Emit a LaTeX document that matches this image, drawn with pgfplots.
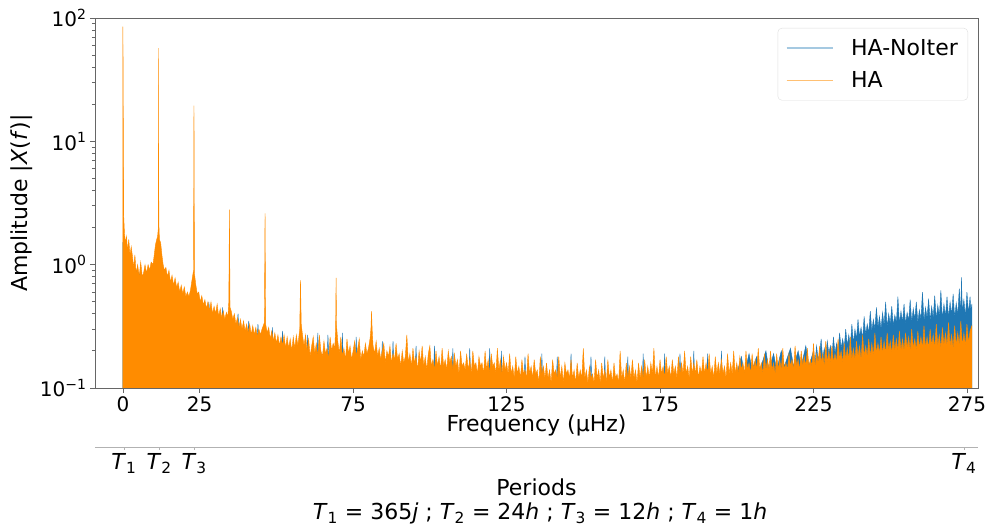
\documentclass[border=0pt]{standalone}
\usepackage{fontspec}
\setmainfont{DejaVu Sans}
\usepackage{pgfplots}
\pgfplotsset{compat=1.18}
\definecolor{mplblue}{HTML}{1F77B4}
\definecolor{dorange}{HTML}{FF8C00}

\begin{document}
\begin{tikzpicture}[font=\fontsize{22}{26}\selectfont]
\path[use as bounding box] (-95pt,-139pt) rectangle (890pt,388pt);
\begin{axis}[
    at={(0pt,0pt)}, anchor=south west,
    scale only axis, width=883pt, height=370pt,
    ymode=log,
    xmin=-9.1, xmax=278.6, ymin=0.1, ymax=100,
    xtick={0,25,75,125,175,225,275},
    ytick={0.1,1,10,100},
    yticklabels={10\textsuperscript{−1},10\textsuperscript{0},10\textsuperscript{1},10\textsuperscript{2}},
    minor ytick={0.2,0.3,0.4,0.5,0.6,0.7,0.8,0.9,2,3,4,5,6,7,8,9,20,30,40,50,60,70,80,90},
    /pgf/number format/assume math mode=true,
    tick label style={font=\fontsize{20}{24}\selectfont},
    tick align=outside, xtick pos=bottom, ytick pos=left,
    major tick length=5pt, minor tick length=3pt,
    axis line style={gray!80!black, line width=0.8pt},
    tick style={gray!80!black, line width=0.8pt},
    axis on top,
    xlabel={Frequency (µHz)},
    ylabel={Amplitude |\textit{X}(\textit{f})|},
    xlabel style={at={(axis description cs:0.5,-0.1)}, anchor=center},
    ylabel style={at={(axis description cs:-0.0827,0.5)}, anchor=center},
    legend style={at={(axis description cs:0.9887,0.973)}, anchor=north east,
        draw=gray!25, rounded corners=4pt, fill=white, inner xsep=8pt, inner ysep=9pt,
        row sep=11pt, font=\fontsize{22}{26}\selectfont,
        /tikz/every odd column/.append style={column sep=16pt}},
    legend cell align=left,
    legend image code/.code={\draw[#1] (0pt,0pt) -- (46pt,0pt);},
]
\addlegendimage{mplblue!40, line width=1.3pt}
\addlegendimage{dorange!55, line width=1.3pt}

% HA-NoIter
\addplot[draw=mplblue, line width=0.4pt, fill=mplblue, forget plot] coordinates {
(0,0.05)(0,1.5)(3,1.0)(6,0.8)(10,0.85)(14,0.75)(18,0.55)(22,0.5)(25,0.42)
(27.7,0.38)(28,0.5)(28.3,0.38)(32.2,0.33)(32.5,0.45)(32.8,0.33)(37.2,0.29)(37.5,0.4)(37.8,0.29)
(40.7,0.26)(41,0.35)(41.3,0.26)(43.7,0.24)(44,0.33)(44.3,0.24)(48.4,0.21)(48.7,0.31)(49,0.21)
(51.7,0.2)(52,0.29)(52.3,0.2)(56,0.18)(59.9,0.17)(60.2,0.27)(60.5,0.17)(63.2,0.16)(63.5,0.28)(63.8,0.16)
(66.5,0.16)(66.8,0.27)(67.1,0.16)(71.2,0.16)(71.5,0.28)(71.8,0.16)(75.7,0.15)(76,0.26)(76.3,0.15)
(84.2,0.14)(84.5,0.24)(84.8,0.14)(87.7,0.14)(88,0.24)(88.3,0.14)(95.2,0.13)(95.5,0.22)(95.8,0.13)
(101.2,0.13)(101.5,0.22)(101.8,0.13)(107.2,0.12)(107.5,0.21)(107.8,0.12)(112.7,0.12)(113,0.21)(113.3,0.12)
(119.2,0.12)(119.5,0.21)(119.8,0.12)(123,0.12)(123.3,0.2)(123.6,0.11)
(130.7,0.11)(131,0.18)(131.3,0.11)(136.2,0.1)(136.5,0.19)(136.8,0.1)(141.2,0.1)(141.5,0.18)(141.8,0.1)
(145.7,0.1)(146,0.19)(146.3,0.1)(152.2,0.1)(152.5,0.18)(152.8,0.1)(156.7,0.1)(157,0.18)(157.3,0.1)
(164.2,0.1)(164.5,0.18)(164.8,0.1)(169.2,0.1)(169.5,0.19)(169.8,0.1)(176.2,0.11)(176.5,0.19)(176.8,0.11)
(181.2,0.11)(181.5,0.19)(181.8,0.11)(185.7,0.11)(186,0.2)(186.3,0.11)(190.2,0.11)(190.5,0.19)(190.8,0.11)
(194.7,0.12)(195,0.2)(195.3,0.12)(200,0.13)
(201.5,0.18)(202.5,0.13)(204,0.19)(205,0.14)(206.5,0.18)(207.5,0.14)(209.5,0.2)(210.5,0.14)(212,0.19)
(213,0.14)(214.5,0.2)(215.5,0.15)(217.5,0.21)(218.5,0.15)(220,0.2)(221,0.15)(222.5,0.22)(223.5,0.15)
(225,0.2)(225.5,0.16)(226,0.22)(226.5,0.17)(227,0.19)(227.5,0.25)(228,0.17)(228.5,0.21)(229,0.18)
(229.5,0.24)(230,0.19)(230.5,0.22)(231,0.18)(231.5,0.26)(232,0.19)(232.5,0.23)(233,0.2)(233.5,0.28)
(234,0.21)(234.5,0.25)(235,0.21)(235.5,0.3)(236,0.22)(236.5,0.27)(237,0.22)(237.5,0.33)(238,0.23)
(238.5,0.3)(239,0.25)(239.5,0.36)(240,0.26)(240.5,0.31)(241,0.25)(241.5,0.38)(242,0.27)(242.5,0.33)
(243,0.28)(243.5,0.42)(244,0.29)(244.5,0.36)(245,0.3)(245.5,0.45)(246,0.31)(246.5,0.38)(247,0.3)
(247.5,0.41)(248,0.32)(248.5,0.5)(249,0.31)(249.5,0.4)(250,0.33)(250.5,0.46)(251,0.32)(251.5,0.39)
(252,0.34)(252.5,0.55)(253,0.33)(253.5,0.42)(254,0.34)(254.5,0.48)(255,0.33)(255.5,0.41)(256,0.35)
(256.5,0.52)(257,0.34)(257.5,0.44)(258,0.36)(258.5,0.5)(259,0.34)(259.5,0.43)(260,0.36)(260.5,0.6)
(261,0.35)(261.5,0.45)(262,0.37)(262.5,0.53)(263,0.35)(263.5,0.46)(264,0.37)(264.5,0.56)(265,0.36)
(265.5,0.47)(266,0.38)(266.5,0.62)(267,0.36)(267.5,0.48)(268,0.38)(268.5,0.55)(269,0.37)(269.5,0.5)
(270,0.39)(270.5,0.58)(271,0.37)(271.5,0.49)(272,0.39)(272.5,0.64)(273,0.4)(273.2,0.79)(273.5,0.42)
(274,0.52)(274.5,0.38)(275,0.6)(275.5,0.4)(276,0.55)(276.3,0.42)(276.6,0.48)(276.6,0.05)
} -- cycle;

% HA
\addplot[draw=dorange, line width=0.4pt, fill=dorange, forget plot] coordinates {
(0,0.05)(0,85)(0.25,2.5)(0.5,1.8)(0.8,1.5)(1.15,1.7)(1.5,1.3)(1.9,1.6)(2.3,1.2)(2.7,1.4)
(3.05,1.2)(3.5,0.95)(3.9,1.2)(4.3,0.85)(4.8,1.0)(5.3,0.8)(5.8,1.05)(6.3,0.8)
(6.7,0.85)(7.2,1.0)(7.7,0.85)(8.2,1.0)(8.7,0.9)(9.2,1.05)(9.8,1.0)(10.2,1.2)(10.6,1.45)
(11.0,1.6)(11.3,1.7)(11.55,2.0)(11.6,57)(11.7,2.2)(11.9,1.6)(12.3,1.5)(12.7,1.2)(13.1,1.0)
(13.5,0.9)(14,0.95)(14.5,0.8)(15,0.9)(15.5,0.72)(16,0.82)(16.5,0.68)(17,0.78)(17.5,0.65)(18,0.72)
(18.5,0.6)(19,0.68)(19.5,0.58)(20,0.66)(20.5,0.55)(21,0.6)(21.5,0.55)(22,0.62)(22.5,0.75)(23,0.9)
(23.15,19.5)(23.3,0.85)(23.7,0.7)(24.2,0.58)(24.7,0.6)(25.2,0.5)(25.7,0.56)(26.2,0.47)(26.7,0.52)
(27.2,0.44)(27.7,0.5)(28.2,0.42)(28.7,0.5)(29.2,0.4)(29.7,0.46)(30.2,0.4)(30.7,0.48)(31.2,0.38)
(31.7,0.44)(32.2,0.37)(32.7,0.42)(33.2,0.36)(33.7,0.41)(34.2,0.38)(34.5,0.5)(34.7,2.8)(34.9,0.45)
(35.3,0.42)(35.8,0.36)(36.3,0.4)(36.8,0.33)(37.3,0.37)(37.8,0.31)(38.3,0.36)(38.8,0.3)(39.3,0.35)
(39.8,0.29)(40.3,0.33)(40.8,0.28)(41.3,0.33)(41.8,0.27)(42.3,0.32)(42.8,0.27)(43.3,0.31)(43.8,0.26)
(44.3,0.3)(44.8,0.27)(45.3,0.3)(46.1,0.34)(46.3,2.6)(46.5,0.33)(47,0.28)(47.5,0.31)(48,0.25)
(48.5,0.29)(49,0.24)(49.5,0.28)(50,0.23)(50.5,0.27)(51,0.22)(51.5,0.26)(52,0.22)(52.5,0.27)(53,0.21)
(53.5,0.26)(54,0.21)(54.5,0.25)(55,0.2)(55.5,0.26)(56,0.21)(56.5,0.27)(57,0.22)(57.6,0.3)(57.85,0.75)
(58.1,0.33)(58.5,0.27)(59,0.22)(59.5,0.27)
(60,0.2)(60.5,0.25)(61,0.18)(61.5,0.22)(62,0.26)(62.5,0.19)(63,0.23)(63.5,0.18)(64,0.27)(64.5,0.2)
(65,0.18)(65.5,0.24)(66,0.19)(66.5,0.21)(67,0.17)(67.5,0.26)(68,0.2)(68.5,0.23)(69,0.21)(69.3,0.3)
(69.45,0.78)(69.6,0.32)(70,0.24)(70.5,0.19)(71,0.26)(71.5,0.18)(72,0.21)(72.5,0.17)(73,0.25)(73.5,0.19)
(74,0.22)(74.5,0.17)(75,0.2)(75.5,0.24)(76,0.18)(76.5,0.21)(77,0.25)(77.5,0.17)(78,0.2)(78.5,0.18)
(79,0.23)(79.5,0.19)(80,0.21)(80.5,0.25)(80.8,0.3)(81,0.42)(81.2,0.3)(81.5,0.22)(82,0.19)(82.5,0.24)
(83,0.18)(83.5,0.21)(84,0.17)(84.5,0.2)(85,0.23)(85.5,0.16)(86,0.2)(86.5,0.18)(87,0.22)(87.5,0.16)
(88,0.19)(88.5,0.17)(89,0.23)(89.5,0.17)(90,0.19)
(90.5,0.15)(91,0.2)(91.5,0.16)(92,0.18)(92.5,0.27)(93,0.16)(93.5,0.19)(94,0.15)(94.5,0.21)(95,0.16)
(95.5,0.18)(96,0.14)(96.5,0.2)(97,0.16)(97.5,0.22)(98,0.15)(98.5,0.18)(99,0.14)(99.5,0.19)(100,0.22)
(100.5,0.15)(101,0.17)(101.5,0.14)(102,0.2)(102.5,0.15)(103,0.18)(103.5,0.14)(104,0.21)(104.5,0.15)
(105,0.17)(105.5,0.14)(106,0.2)(106.5,0.16)(107,0.18)(107.5,0.14)(108,0.19)(108.5,0.15)(109,0.17)
(109.5,0.13)(110,0.2)(110.5,0.15)(111,0.16)(111.5,0.14)(112,0.19)(112.5,0.14)(113,0.17)(113.5,0.13)
(114,0.2)(114.5,0.15)(115,0.16)(115.5,0.13)(116,0.18)(116.5,0.15)(117,0.16)(117.5,0.13)(118,0.2)
(118.5,0.14)(119,0.17)(119.5,0.13)(120,0.19)(120.5,0.15)(121,0.16)(121.5,0.13)(122,0.21)(122.5,0.14)
(123,0.17)(123.5,0.13)(124,0.18)(124.5,0.14)(125,0.16)
(125.5,0.13)(126,0.19)(126.5,0.13)(127,0.15)(127.5,0.12)(128,0.18)(128.5,0.13)(129,0.15)(129.5,0.12)
(130,0.17)(130.5,0.13)(131,0.14)(131.5,0.12)(132,0.19)(132.5,0.13)(133,0.15)(133.5,0.12)(134,0.17)
(134.5,0.13)(135,0.14)(135.5,0.11)(136,0.18)(136.5,0.13)(137,0.15)(137.5,0.12)(138,0.16)(138.5,0.12)
(139,0.14)(139.5,0.11)(140,0.17)(140.5,0.13)(141,0.14)(141.5,0.12)(142,0.18)(142.5,0.12)(143,0.15)
(143.5,0.11)(144,0.16)(144.5,0.13)(145,0.14)(145.5,0.12)(146,0.17)(146.5,0.12)(147,0.14)(147.5,0.11)
(148,0.16)(148.5,0.12)(149,0.14)(149.5,0.12)(150,0.21)(150.5,0.12)(151,0.14)(151.5,0.11)(152,0.15)
(152.5,0.12)(153,0.13)(153.5,0.11)(154,0.17)(154.5,0.12)(155,0.14)(155.5,0.11)(156,0.16)(156.5,0.12)
(157,0.14)(157.5,0.11)(158,0.17)(158.5,0.12)(159,0.14)(159.5,0.11)(160,0.16)(160.5,0.12)(161,0.13)
(161.5,0.11)(162,0.2)(162.5,0.12)(163,0.14)(163.5,0.11)(164,0.16)(164.5,0.12)(165,0.15)(165.5,0.12)
(166,0.17)(166.5,0.12)(167,0.14)(167.5,0.11)(168,0.16)(168.5,0.12)(169,0.15)(169.5,0.12)(170,0.17)
(170.5,0.12)(171,0.15)(171.5,0.12)(172,0.16)(172.5,0.13)(173,0.21)(173.5,0.12)(174,0.15)(174.5,0.12)
(175,0.17)(175.5,0.13)(176,0.15)(176.5,0.12)(177,0.18)(177.5,0.13)(178,0.15)(178.5,0.12)(179,0.17)
(179.5,0.13)(180,0.15)(180.5,0.12)(181,0.18)(181.5,0.13)(182,0.16)(182.5,0.13)(183,0.2)(183.5,0.13)
(184,0.15)(184.5,0.12)(185,0.18)(185.5,0.13)(186,0.16)(186.5,0.13)(187,0.17)(187.5,0.12)(188,0.15)
(188.5,0.13)(189,0.18)(189.5,0.13)(190,0.16)(190.5,0.13)(191,0.19)(191.5,0.13)(192,0.15)(192.5,0.12)
(193,0.18)(193.5,0.13)(194,0.16)(194.5,0.13)(195,0.17)(195.5,0.13)(196,0.15)(196.5,0.12)(197,0.19)
(197.5,0.13)(198,0.16)(198.5,0.13)(199,0.2)(199.5,0.13)(200,0.16)
(200.5,0.13)(201,0.18)(201.5,0.14)(202,0.16)(202.5,0.13)(203,0.2)(203.5,0.14)(204,0.16)(204.5,0.13)
(205,0.19)(205.5,0.14)(206,0.17)(206.5,0.14)(207,0.21)(207.5,0.14)(208,0.16)(208.5,0.13)(209,0.19)
(209.5,0.14)(210,0.17)(210.5,0.14)(211,0.2)(211.5,0.14)(212,0.16)(212.5,0.13)(213,0.19)(213.5,0.14)
(214,0.17)(214.5,0.14)(215,0.21)(215.5,0.14)(216,0.16)(216.5,0.14)(217,0.19)(217.5,0.15)(218,0.17)
(218.5,0.14)(219,0.22)(219.5,0.15)(220,0.17)(220.5,0.14)(221,0.2)(221.5,0.15)(222,0.18)(222.5,0.15)
(223,0.21)(223.5,0.15)(224,0.17)(224.5,0.15)(225,0.23)
(225.5,0.15)(226,0.19)(226.5,0.16)(227,0.22)(227.5,0.16)(228,0.19)(228.5,0.15)(229,0.24)(229.5,0.16)
(230,0.2)(230.5,0.16)(231,0.22)(231.5,0.16)(232,0.19)(232.5,0.16)(233,0.25)(233.5,0.17)(234,0.2)
(234.5,0.16)(235,0.23)(235.5,0.17)(236,0.21)(236.5,0.17)(237,0.26)(237.5,0.17)(238,0.21)(238.5,0.17)
(239,0.24)(239.5,0.18)(240,0.22)(240.5,0.17)(241,0.27)(241.5,0.18)(242,0.22)(242.5,0.18)(243,0.25)
(243.5,0.18)(244,0.23)(244.5,0.18)(245,0.28)
(245.5,0.19)(246,0.23)(246.5,0.19)(247,0.26)(247.5,0.19)(248,0.24)(248.5,0.19)(249,0.28)(249.5,0.2)
(250,0.24)(250.5,0.19)(251,0.27)(251.5,0.2)(252,0.25)(252.5,0.2)(253,0.29)(253.5,0.2)(254,0.25)
(254.5,0.2)(255,0.28)(255.5,0.21)(256,0.26)(256.5,0.2)(257,0.3)(257.5,0.21)(258,0.25)(258.5,0.2)
(259,0.29)(259.5,0.21)(260,0.26)(260.5,0.21)(261,0.32)(261.5,0.21)(262,0.26)(262.5,0.21)(263,0.3)
(263.5,0.22)(264,0.27)(264.5,0.21)(265,0.33)(265.5,0.22)(266,0.27)(266.5,0.21)(267,0.31)(267.5,0.22)
(268,0.28)(268.5,0.22)(269,0.34)(269.5,0.22)(270,0.27)(270.5,0.21)(271,0.32)(271.5,0.22)(272,0.28)
(272.5,0.22)(273,0.35)(273.5,0.22)(274,0.28)(274.5,0.22)(275,0.33)(275.5,0.23)(276,0.29)(276.6,0.32)
(276.6,0.05)
} -- cycle;

\legend{HA-NoIter,HA}
\end{axis}

\begin{axis}[
    at={(0pt,-59pt)}, anchor=south west,
    scale only axis, width=883pt, height=10pt,
    xmin=-9.1, xmax=278.6, ymin=0, ymax=1,
    hide y axis, axis x line*=bottom,
    x axis line style={-, gray!60, line width=0.8pt},
    xtick={0.3,11.8,23.2,274},
    xticklabels={\textit{T}\textsubscript{1},\textit{T}\textsubscript{2},\textit{T}\textsubscript{3},\textit{T}\textsubscript{4}},
    tick label style={font=\fontsize{22}{26}\selectfont},
    tick align=outside, major tick length=3pt,
    xtick style={gray!60, line width=0.6pt},
]
\end{axis}

\node at (441.5pt,-99pt) {Periods};
\node at (445pt,-125pt) {\textit{T}\textsubscript{1} = 365\textit{j} ; \textit{T}\textsubscript{2} = 24\textit{h} ; \textit{T}\textsubscript{3} = 12\textit{h} ; \textit{T}\textsubscript{4} = 1\textit{h}};
\end{tikzpicture}
\end{document}
